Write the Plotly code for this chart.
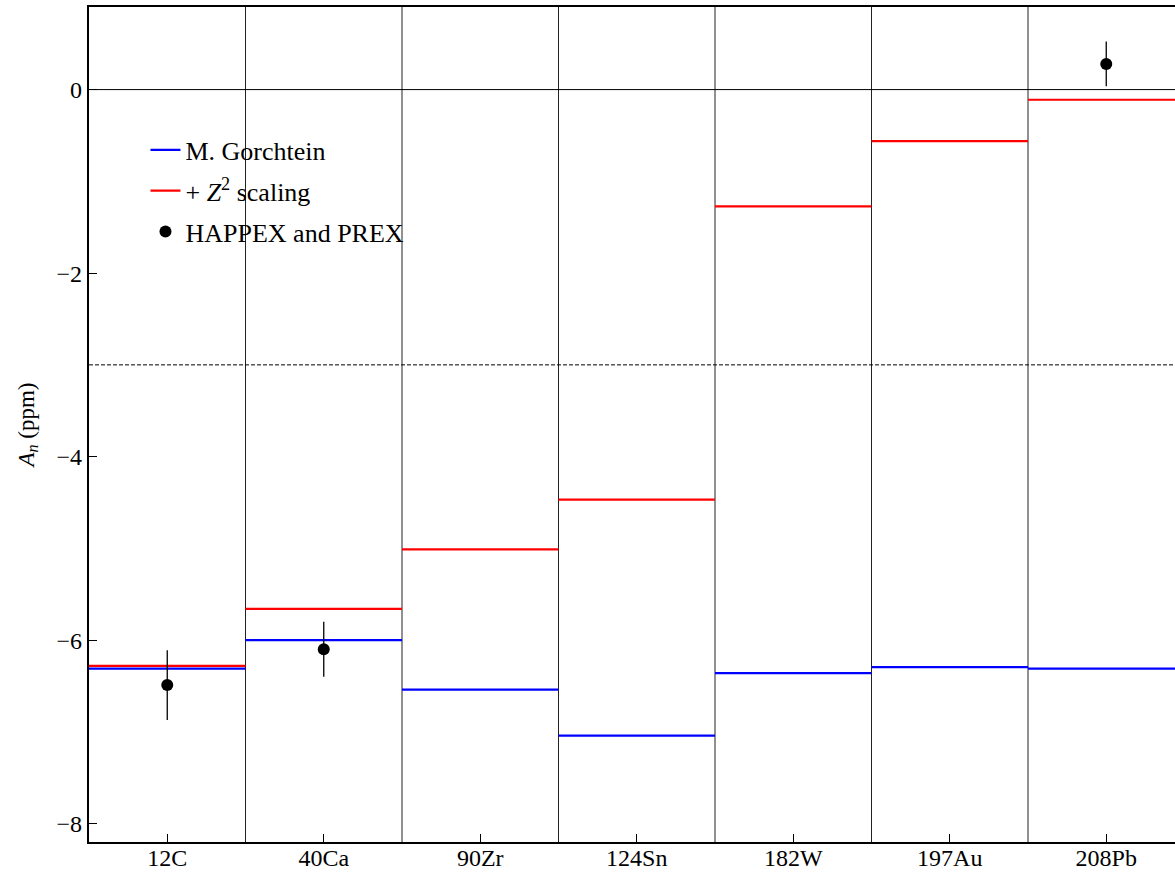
import plotly.graph_objects as go

# Nuclei and parity-violating transverse asymmetry A_n (ppm)
nuclei = ["12C", "40Ca", "90Zr", "124Sn", "182W", "197Au", "208Pb"]
gorchtein = [-6.31, -6.00, -6.54, -7.04, -6.36, -6.295, -6.31]
z2_scaling = [-6.28, -5.66, -5.01, -4.468, -1.273, -0.562, -0.111]

# Measurements (HAPPEX and PREX)
meas_nuclei = ["12C", "40Ca", "208Pb"]
meas_values = [-6.49, -6.10, 0.28]
meas_errors = [0.38, 0.30, 0.245]

SERIF = "Liberation Serif"
idx = {n: i for i, n in enumerate(nuclei)}


def bin_segments(values):
    """One horizontal segment spanning each category bin."""
    xs, ys = [], []
    for i, v in enumerate(values):
        xs += [i - 0.5, i + 0.5, None]
        ys += [v, v, None]
    return xs, ys


fig = go.Figure()

bx, by = bin_segments(gorchtein)
fig.add_trace(go.Scatter(x=bx, y=by, mode="lines", name="M. Gorchtein",
                         legendgroup="a",
                         line=dict(color="#0000ff", width=2.2)))

rx, ry = bin_segments(z2_scaling)
fig.add_trace(go.Scatter(x=rx, y=ry, mode="lines", name="+ <i>Z</i><sup>2</sup> scaling",
                         legendgroup="b",
                         line=dict(color="#ff0000", width=2.2)))

fig.add_trace(go.Scatter(
    x=[idx[n] for n in meas_nuclei], y=meas_values, mode="markers",
    name="HAPPEX and PREX", legendgroup="c",
    marker=dict(color="black", size=12),
    error_y=dict(type="data", array=meas_errors, color="black", thickness=1.3, width=0),
))

# Bin separators
for i in range(len(nuclei)):
    fig.add_vline(x=i + 0.5, line=dict(color="#222", width=1), layer="below")

# Reference lines
fig.add_hline(y=0, line=dict(color="black", width=1), layer="below")
fig.add_hline(y=-3, line=dict(color="black", width=1, dash="4px,2px"), layer="below")

bin_px = 156.5
plot_w = 1175 - 89
fig.update_layout(
    width=1175, height=872,
    margin=dict(l=89, r=0, t=7, b=30),
    plot_bgcolor="white", paper_bgcolor="white",
    font=dict(family=SERIF, color="black", size=24),
    showlegend=True,
    legend=dict(x=0.052, y=0.857, xanchor="left", yanchor="top",
                tracegroupgap=4, traceorder="grouped",
                bgcolor="rgba(0,0,0,0)", font=dict(size=26, family=SERIF)),
)

fig.update_xaxes(
    range=[-0.5, -0.5 + plot_w / bin_px],
    tickvals=list(range(len(nuclei))), ticktext=nuclei,
    ticks="inside", ticklen=8, tickwidth=1.3, tickcolor="black",
    showline=True, linecolor="black", linewidth=2.2, mirror=True,
    showgrid=False, zeroline=False, automargin=False,
    ticklabelstandoff=-7,
    tickfont=dict(size=24, family=SERIF),
)
fig.update_yaxes(
    range=[-8.2, 0.9],
    tickvals=[-8, -6, -4, -2, 0],
    ticks="inside", ticklen=8, tickwidth=1.3, tickcolor="black",
    showline=True, linecolor="black", linewidth=2.2, mirror=False,
    showgrid=False, zeroline=False, automargin=False,
    tickfont=dict(size=24, family=SERIF),
    title=dict(text="<i>A</i><sub><i>n</i></sub> (ppm)", font=dict(size=23, family=SERIF),
               standoff=16),
)

fig.write_html("out.html")
